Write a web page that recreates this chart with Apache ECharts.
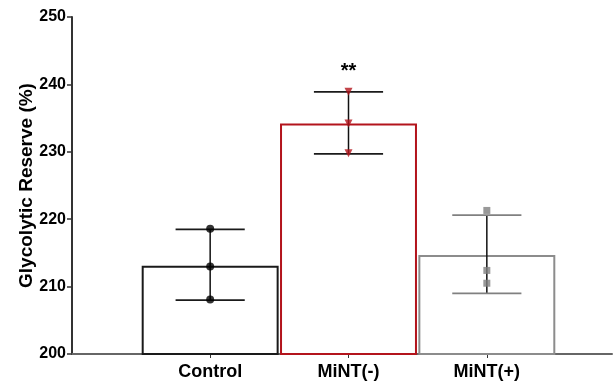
<!DOCTYPE html>
<html><head><meta charset="utf-8">
<script src="https://cdn.jsdelivr.net/npm/echarts@6/dist/echarts.min.js"></script>
<style>html,body{margin:0;padding:0;background:#fff}#c{width:613px;height:384px}</style>
</head><body><div id="c"></div>
<script>
const categories = ['Control', 'MiNT(-)', 'MiNT(+)'];
const means = [213.1, 234.2, 214.7];
const errLow = [208.0, 229.7, 209.0];
const errHigh = [218.5, 238.9, 220.6];
const controlPoints = [218.6, 213.0, 208.1];
const mintMinusPoints = [238.9, 234.2, 229.8];
const mintPlusPoints = [221.3, 212.4, 210.5];
const yTicks = [200, 210, 220, 230, 240, 250];
const significance = [{ cat: 1, value: 241.9, text: '**' }];

const barColors = ['#1a1a1a', '#b3141c', '#8c8c8c'];
const capColors = ['#1a1a1a', '#1a1a1a', '#808080'];
const FONT = 'Liberation Sans, Arial, sans-serif';

const chart = echarts.init(document.getElementById('c'), null, { renderer: 'canvas' });
const gTop = 17, gBottom = 30;
chart.setOption({
  animation: false,
  grid: [
    { left: 72, right: 1, top: gTop, bottom: gBottom },
    { left: 141, right: 57, top: gTop, bottom: gBottom }
  ],
  xAxis: [
    { gridIndex: 0, type: 'value', min: 0, max: 1,
      axisLine: { show: true, lineStyle: { color: '#666', width: 2 } },
      axisTick: { show: false }, axisLabel: { show: false }, splitLine: { show: false } },
    { gridIndex: 1, type: 'category', data: categories,
      axisLine: { show: false },
      axisTick: { show: true, alignWithLabel: true, length: 4, lineStyle: { color: '#333', width: 1 } },
      axisLabel: { color: '#000', fontFamily: FONT, fontWeight: 'bold', fontSize: 18, margin: 9 } }
  ],
  yAxis: [
    { gridIndex: 0, type: 'value', min: yTicks[0], max: yTicks[yTicks.length - 1], interval: 10,
      name: 'Glycolytic Reserve (%)', nameLocation: 'middle', nameGap: 36, nameMoveOverlap: false,
      nameTextStyle: { color: '#000', fontFamily: FONT, fontWeight: 'bold', fontSize: 19 },
      axisLine: { show: true, lineStyle: { color: '#333', width: 2 } },
      axisTick: { show: true, length: 5, lineStyle: { color: '#333', width: 1.5 } },
      axisLabel: { color: '#000', fontFamily: FONT, fontWeight: 'bold', fontSize: 16, margin: 6 },
      splitLine: { show: false } },
    { gridIndex: 1, type: 'value', min: yTicks[0], max: yTicks[yTicks.length - 1], show: false, splitLine: { show: false } }
  ],
  series: [
    { type: 'bar', xAxisIndex: 1, yAxisIndex: 1, barCategoryGap: '0%', barWidth: '99%',
      data: means.map((v, i) => ({ value: v, itemStyle: { color: '#fff', borderColor: barColors[i], borderWidth: 2 } })),
      z: 1 },
    { type: 'custom', xAxisIndex: 1, yAxisIndex: 1, z: 3,
      data: categories.map((c, i) => [i, errLow[i], errHigh[i]]),
      renderItem: function (params, api) {
        const i = api.value(0);
        const lo = api.coord([i, api.value(1)]);
        const hi = api.coord([i, api.value(2)]);
        const hw = api.size([1, 0])[0] * 0.25;
        return { type: 'group', children: [
          { type: 'line', shape: { x1: lo[0], y1: lo[1], x2: hi[0], y2: hi[1] }, style: { stroke: '#111', lineWidth: 1.5 } },
          { type: 'line', shape: { x1: hi[0] - hw, y1: hi[1], x2: hi[0] + hw, y2: hi[1] }, style: { stroke: capColors[i], lineWidth: 1.8 } },
          { type: 'line', shape: { x1: lo[0] - hw, y1: lo[1], x2: lo[0] + hw, y2: lo[1] }, style: { stroke: capColors[i], lineWidth: 1.8 } }
        ] };
      } },
    { type: 'scatter', xAxisIndex: 1, yAxisIndex: 1, z: 4, symbol: 'circle', symbolSize: 8,
      itemStyle: { color: '#000' }, data: controlPoints.map(v => [0, v]) },
    { type: 'scatter', xAxisIndex: 1, yAxisIndex: 1, z: 4, symbol: 'triangle', symbolRotate: 180, symbolSize: 8,
      itemStyle: { color: '#b3141c' }, data: mintMinusPoints.map(v => [1, v]) },
    { type: 'scatter', xAxisIndex: 1, yAxisIndex: 1, z: 4, symbol: 'rect', symbolSize: 7,
      itemStyle: { color: '#808080' }, data: mintPlusPoints.map(v => [2, v]) },
    { type: 'custom', xAxisIndex: 1, yAxisIndex: 1, z: 5,
      data: significance.map(s => [s.cat, s.value]),
      renderItem: function (params, api) {
        const p = api.coord([api.value(0), api.value(1)]);
        return { type: 'text', x: p[0], y: p[1], style: { text: significance[params.dataIndex].text,
          fill: '#000', font: 'bold 20px ' + FONT, align: 'center', verticalAlign: 'middle' } };
      } }
  ]
});
</script></body></html>
